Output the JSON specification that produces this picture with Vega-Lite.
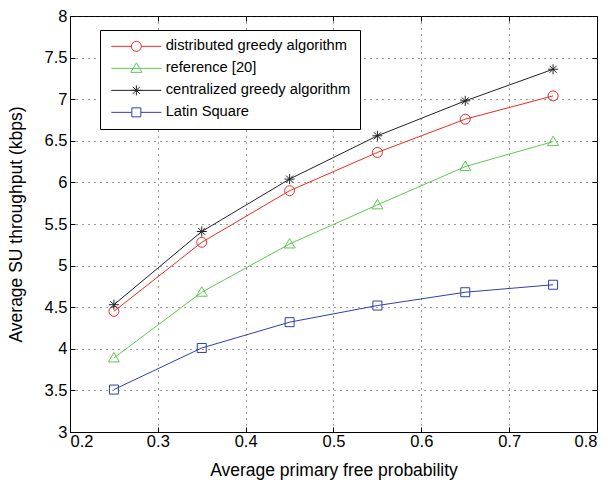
{
  "$schema": "https://vega.github.io/schema/vega-lite/v6.json",
  "width": 527,
  "height": 416,
  "autosize": {"type": "none"},
  "padding": {"left": 70, "top": 16, "right": 12, "bottom": 51},
  "background": "white",
  "config": {
    "font": "Liberation Sans",
    "view": {"stroke": "black", "strokeWidth": 1},
    "axis": {
      "domainColor": "black",
      "tickColor": "black",
      "labelColor": "black",
      "titleColor": "black",
      "labelFontSize": 16.5,
      "titleFontSize": 17.5,
      "titleFontWeight": "normal",
      "gridColor": "#222",
      "gridDash": [1, 5],
      "gridOpacity": 0.9,
      "tickSize": -5,
      "labelOverlap": false
    },
    "legend": {
      "strokeColor": "black",
      "fillColor": "white",
      "padding": 9,
      "labelFontSize": 14.7,
      "labelColor": "black",
      "labelLimit": 400
    }
  },
  "data": {
    "values": [
      {"p": 0.25, "thr": 4.45, "series": "distributed greedy algorithm"},
      {"p": 0.35, "thr": 5.28, "series": "distributed greedy algorithm"},
      {"p": 0.45, "thr": 5.90, "series": "distributed greedy algorithm"},
      {"p": 0.55, "thr": 6.36, "series": "distributed greedy algorithm"},
      {"p": 0.65, "thr": 6.76, "series": "distributed greedy algorithm"},
      {"p": 0.75, "thr": 7.04, "series": "distributed greedy algorithm"},
      {"p": 0.25, "thr": 3.89, "series": "reference [20]"},
      {"p": 0.35, "thr": 4.68, "series": "reference [20]"},
      {"p": 0.45, "thr": 5.26, "series": "reference [20]"},
      {"p": 0.55, "thr": 5.73, "series": "reference [20]"},
      {"p": 0.65, "thr": 6.19, "series": "reference [20]"},
      {"p": 0.75, "thr": 6.49, "series": "reference [20]"},
      {"p": 0.25, "thr": 4.53, "series": "centralized greedy algorithm"},
      {"p": 0.35, "thr": 5.41, "series": "centralized greedy algorithm"},
      {"p": 0.45, "thr": 6.04, "series": "centralized greedy algorithm"},
      {"p": 0.55, "thr": 6.56, "series": "centralized greedy algorithm"},
      {"p": 0.65, "thr": 6.98, "series": "centralized greedy algorithm"},
      {"p": 0.75, "thr": 7.36, "series": "centralized greedy algorithm"},
      {"p": 0.25, "thr": 3.51, "series": "Latin Square"},
      {"p": 0.35, "thr": 4.01, "series": "Latin Square"},
      {"p": 0.45, "thr": 4.32, "series": "Latin Square"},
      {"p": 0.55, "thr": 4.52, "series": "Latin Square"},
      {"p": 0.65, "thr": 4.68, "series": "Latin Square"},
      {"p": 0.75, "thr": 4.77, "series": "Latin Square"}
    ]
  },
  "layer": [
    {
      "layer": [
        {
          "mark": {"type": "line", "strokeWidth": 1},
          "encoding": {
            "x": {"field": "p", "type": "quantitative", "scale": {"domain": [0.2, 0.8], "nice": false},
                  "axis": {"title": "Average primary free probability", "values": [0.2, 0.3, 0.4, 0.5, 0.6, 0.7, 0.8], "format": "~g", "labelPadding": 6, "titlePadding": 12}},
            "y": {"field": "thr", "type": "quantitative", "scale": {"domain": [3, 8], "nice": false, "zero": false},
                  "axis": {"title": "Average SU throughput (kbps)", "values": [3, 3.5, 4, 4.5, 5, 5.5, 6, 6.5, 7, 7.5, 8], "format": "~g", "labelPadding": 8, "titlePadding": 19}},
            "color": {"field": "series", "type": "nominal",
                      "scale": {"domain": ["distributed greedy algorithm", "reference [20]", "centralized greedy algorithm", "Latin Square"],
                                "range": ["#ee2b24", "#5cc94f", "#222222", "#2e40aa"]},
                      "legend": {
                        "title": null, "orient": "none", "legendX": 30, "legendY": 14,
                        "symbolSize": 100, "labelOffset": 42, "rowPadding": 6,
                        "encode": {"symbols": {"update": {"shape": {"signal": "datum.value === 'distributed greedy algorithm' ? 'M-1,0H3M5,0H9M5,0A1,1 0 1,1 3,0A1,1 0 1,1 5,0' : datum.value === 'reference [20]' ? 'M-1,0H9M4,-1.1L5.1,0.8L2.9,0.8Z' : datum.value === 'centralized greedy algorithm' ? 'M-1,0H9M4,-1V1M3,0H5M3.3,-0.7L4.7,0.7M3.3,0.7L4.7,-0.7' : 'M-1,0H3.1M4.9,0H9M3.1,-0.9H4.9V0.9H3.1Z'"}, "strokeWidth": {"value": 1}, "fill": {"value": "transparent"}}}}
                      }},
            "detail": {"field": "series"}
          }
        },
        {
          "transform": [{"filter": "datum.series === 'distributed greedy algorithm'"}],
          "mark": {"type": "point", "filled": false, "strokeWidth": 1, "size": 100, "opacity": 1, "shape": "M1,0A1,1 0 1,1 -1,0A1,1 0 1,1 1,0"},
          "encoding": {
            "x": {"field": "p", "type": "quantitative"},
            "y": {"field": "thr", "type": "quantitative"},
            "color": {"field": "series", "type": "nominal"}
          }
        },
        {
          "transform": [{"filter": "datum.series === 'reference [20]'"}],
          "mark": {"type": "point", "filled": false, "strokeWidth": 1, "size": 100, "opacity": 1, "shape": "M0,-1.1L1.1,0.8L-1.1,0.8Z"},
          "encoding": {
            "x": {"field": "p", "type": "quantitative"},
            "y": {"field": "thr", "type": "quantitative"},
            "color": {"field": "series", "type": "nominal"}
          }
        },
        {
          "transform": [{"filter": "datum.series === 'centralized greedy algorithm'"}],
          "mark": {"type": "point", "filled": false, "strokeWidth": 1, "size": 100, "opacity": 1, "shape": "M0,-1V1M-1,0H1M-0.7,-0.7L0.7,0.7M-0.7,0.7L0.7,-0.7"},
          "encoding": {
            "x": {"field": "p", "type": "quantitative"},
            "y": {"field": "thr", "type": "quantitative"},
            "color": {"field": "series", "type": "nominal"}
          }
        },
        {
          "transform": [{"filter": "datum.series === 'Latin Square'"}],
          "mark": {"type": "point", "filled": false, "strokeWidth": 1, "size": 100, "opacity": 1, "shape": "M-0.9,-0.9H0.9V0.9H-0.9Z"},
          "encoding": {
            "x": {"field": "p", "type": "quantitative"},
            "y": {"field": "thr", "type": "quantitative"},
            "color": {"field": "series", "type": "nominal"}
          }
        }
      ]
    },
    {
      "mark": {"type": "point", "opacity": 0},
      "encoding": {
        "x": {"field": "p", "type": "quantitative", "scale": {"domain": [0.2, 0.8], "nice": false},
              "axis": {"orient": "top", "title": null, "labels": false, "grid": false, "domain": false, "values": [0.2, 0.3, 0.4, 0.5, 0.6, 0.7, 0.8]}},
        "y": {"field": "thr", "type": "quantitative", "scale": {"domain": [3, 8], "nice": false, "zero": false},
              "axis": {"orient": "right", "title": null, "labels": false, "grid": false, "domain": false, "values": [3, 3.5, 4, 4.5, 5, 5.5, 6, 6.5, 7, 7.5, 8]}}
      }
    }
  ],
  "resolve": {"axis": {"x": "independent", "y": "independent"}}
}
